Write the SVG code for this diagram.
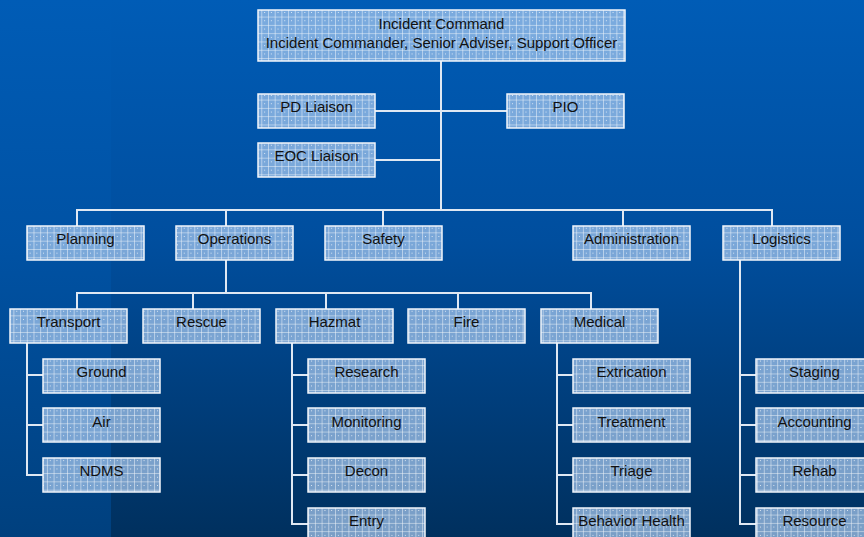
<svg xmlns="http://www.w3.org/2000/svg" width="864" height="537" viewBox="0 0 864 537">
<defs>
<linearGradient id="bgR" x1="0" y1="0" x2="0" y2="1">
<stop offset="0" stop-color="#005cb6"/>
<stop offset="0.45" stop-color="#004e9e"/>
<stop offset="1" stop-color="#00305e"/>
</linearGradient>
<linearGradient id="bgL" x1="0" y1="0" x2="0" y2="1">
<stop offset="0" stop-color="#005cb6"/>
<stop offset="0.45" stop-color="#0052a4"/>
<stop offset="1" stop-color="#00407e"/>
</linearGradient>
<pattern id="grid" patternUnits="userSpaceOnUse" width="6.7" height="8.3">
<rect width="6.7" height="8.3" fill="#a9c9ef" fill-opacity="0.72"/>
<path d="M0 0H6.7M0 0V8.3" stroke="#ffffff" stroke-opacity="0.9" stroke-width="1" fill="none"/>
<circle cx="3.35" cy="4.15" r="0.55" fill="#ffffff" fill-opacity="0.9"/>
</pattern>
</defs>
<style>
.box{fill:url(#grid);stroke:#f2f6fb;stroke-width:1.5}
.t{font-family:"Liberation Sans",Arial,sans-serif;font-size:15px;fill:#111;text-anchor:middle}
.c{stroke:#dfe8f3;stroke-width:2;fill:none}
</style>
<rect x="0" y="0" width="864" height="537" fill="url(#bgR)"/>
<rect x="0" y="0" width="111" height="537" fill="url(#bgL)"/>

<g id="connectors">
<path class="c" d="M441 61V210M375 111H507M375 160H441"/>
<path class="c" d="M77 226V210H772V226M226 210V226M383 210V226M623 210V226"/>
<path class="c" d="M226 260V293M77 309V293H591V309M193 293V309M326 293V309M458 293V309"/>
<path class="c" d="M27 343V475H43M27 375H43M27 425H43"/>
<path class="c" d="M292 343V524H308M292 375H308M292 425H308M292 475H308"/>
<path class="c" d="M557 343V524H573M557 375H573M557 425H573M557 475H573"/>
<path class="c" d="M740 260V524H756M740 375H756M740 425H756M740 475H756"/>
</g>

<g id="incident-command"><rect class="box" x="258" y="10" width="367" height="51"/>
<text class="t" x="441.5" y="29">Incident Command</text>
<text class="t" x="441.5" y="48">Incident Commander, Senior Adviser, Support Officer</text></g>
<g id="pd-liaison"><rect class="box" x="258" y="94" width="117" height="34"/><text class="t" x="316.5" y="112">PD Liaison</text></g>
<g id="pio"><rect class="box" x="507" y="94" width="117" height="34"/><text class="t" x="565.5" y="112">PIO</text></g>
<g id="eoc-liaison"><rect class="box" x="258" y="143" width="117" height="34"/><text class="t" x="316.5" y="161">EOC Liaison</text></g>

<g id="planning"><rect class="box" x="27" y="226" width="117" height="34"/><text class="t" x="85.5" y="244">Planning</text></g>
<g id="operations"><rect class="box" x="176" y="226" width="117" height="34"/><text class="t" x="234.5" y="244">Operations</text></g>
<g id="safety"><rect class="box" x="325" y="226" width="117" height="34"/><text class="t" x="383.5" y="244">Safety</text></g>
<g id="administration"><rect class="box" x="573" y="226" width="117" height="34"/><text class="t" x="631.5" y="244">Administration</text></g>
<g id="logistics"><rect class="box" x="723" y="226" width="117" height="34"/><text class="t" x="781.5" y="244">Logistics</text></g>

<g id="transport"><rect class="box" x="10" y="309" width="117" height="34"/><text class="t" x="68.5" y="327">Transport</text></g>
<g id="rescue"><rect class="box" x="143" y="309" width="117" height="34"/><text class="t" x="201.5" y="327">Rescue</text></g>
<g id="hazmat"><rect class="box" x="276" y="309" width="117" height="34"/><text class="t" x="334.5" y="327">Hazmat</text></g>
<g id="fire"><rect class="box" x="408" y="309" width="117" height="34"/><text class="t" x="466.5" y="327">Fire</text></g>
<g id="medical"><rect class="box" x="541" y="309" width="117" height="34"/><text class="t" x="599.5" y="327">Medical</text></g>

<g id="ground"><rect class="box" x="43" y="359" width="117" height="34"/><text class="t" x="101.5" y="377">Ground</text></g>
<g id="air"><rect class="box" x="43" y="408" width="117" height="34"/><text class="t" x="101.5" y="427">Air</text></g>
<g id="ndms"><rect class="box" x="43" y="458" width="117" height="34"/><text class="t" x="101.5" y="476">NDMS</text></g>

<g id="research"><rect class="box" x="308" y="359" width="117" height="34"/><text class="t" x="366.5" y="377">Research</text></g>
<g id="monitoring"><rect class="box" x="308" y="408" width="117" height="34"/><text class="t" x="366.5" y="427">Monitoring</text></g>
<g id="decon"><rect class="box" x="308" y="458" width="117" height="34"/><text class="t" x="366.5" y="476">Decon</text></g>
<g id="entry"><rect class="box" x="308" y="508" width="117" height="34"/><text class="t" x="366.5" y="526">Entry</text></g>

<g id="extrication"><rect class="box" x="573" y="359" width="117" height="34"/><text class="t" x="631.5" y="377">Extrication</text></g>
<g id="treatment"><rect class="box" x="573" y="408" width="117" height="34"/><text class="t" x="631.5" y="427">Treatment</text></g>
<g id="triage"><rect class="box" x="573" y="458" width="117" height="34"/><text class="t" x="631.5" y="476">Triage</text></g>
<g id="behavior-health"><rect class="box" x="573" y="508" width="117" height="34"/><text class="t" x="631.5" y="526">Behavior Health</text></g>

<g id="staging"><rect class="box" x="756" y="359" width="117" height="34"/><text class="t" x="814.5" y="377">Staging</text></g>
<g id="accounting"><rect class="box" x="756" y="408" width="117" height="34"/><text class="t" x="814.5" y="427">Accounting</text></g>
<g id="rehab"><rect class="box" x="756" y="458" width="117" height="34"/><text class="t" x="814.5" y="476">Rehab</text></g>
<g id="resource"><rect class="box" x="756" y="508" width="117" height="34"/><text class="t" x="814.5" y="526">Resource</text></g>
</svg>
